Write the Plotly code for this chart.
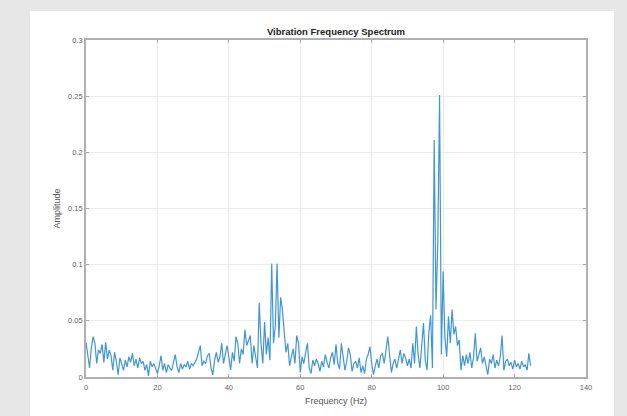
import numpy as np
import plotly.graph_objects as go

# Frequency bins (0.5 Hz resolution)
freq = np.arange(0, 125, 0.5)

# Amplitude spectrum, one row per 10 Hz
amp_0_10 = [0.031, 0.018, 0.008, 0.026, 0.036, 0.030, 0.012, 0.024, 0.021, 0.029,
            0.013, 0.031, 0.016, 0.024, 0.019, 0.006, 0.022, 0.014, 0.002, 0.017]
amp_10_20 = [0.011, 0.006, 0.015, 0.009, 0.018, 0.013, 0.021, 0.010, 0.016, 0.008,
             0.017, 0.012, 0.014, 0.006, 0.011, 0.001, 0.014, 0.009, 0.012, 0.007]
amp_20_30 = [0.003, 0.010, 0.019, 0.006, 0.012, 0.004, 0.011, 0.008, 0.006, 0.013,
             0.020, 0.009, 0.004, 0.012, 0.007, 0.011, 0.009, 0.014, 0.007, 0.012]
amp_30_40 = [0.010, 0.013, 0.016, 0.022, 0.028, 0.010, 0.014, 0.012, 0.019, 0.021,
             0.008, 0.002, 0.015, 0.022, 0.013, 0.018, 0.030, 0.012, 0.020, 0.028]
amp_40_50 = [0.018, 0.006, 0.022, 0.014, 0.036, 0.030, 0.012, 0.025, 0.020, 0.042,
             0.028, 0.033, 0.037, 0.012, 0.028, 0.018, 0.008, 0.066, 0.030, 0.012]
amp_50_60 = [0.049, 0.020, 0.035, 0.015, 0.101, 0.030, 0.045, 0.101, 0.035, 0.071,
             0.060, 0.040, 0.022, 0.030, 0.010, 0.018, 0.025, 0.012, 0.037, 0.030]
amp_60_70 = [0.004, 0.018, 0.012, 0.022, 0.030, 0.008, 0.003, 0.015, 0.010, 0.016,
             0.012, 0.005, 0.014, 0.009, 0.020, 0.013, 0.008, 0.017, 0.022, 0.011]
amp_70_80 = [0.029, 0.012, 0.007, 0.030, 0.018, 0.006, 0.014, 0.026, 0.020, 0.005,
             0.012, 0.014, 0.008, 0.017, 0.004, 0.010, 0.003, 0.016, 0.020, 0.027]
amp_80_90 = [0.012, 0.002, 0.010, 0.016, 0.008, 0.019, 0.021, 0.012, 0.024, 0.036,
             0.020, 0.004, 0.012, 0.016, 0.008, 0.018, 0.024, 0.012, 0.021, 0.017]
amp_90_100 = [0.010, 0.016, 0.008, 0.030, 0.012, 0.045, 0.020, 0.008, 0.030, 0.048,
              0.015, 0.006, 0.040, 0.055, 0.008, 0.211, 0.060, 0.120, 0.251, 0.020]
amp_100_110 = [0.094, 0.035, 0.018, 0.054, 0.030, 0.060, 0.038, 0.045, 0.028, 0.033,
               0.006, 0.019, 0.010, 0.020, 0.012, 0.022, 0.008, 0.017, 0.039, 0.014]
amp_110_120 = [0.020, 0.026, 0.012, 0.018, 0.010, 0.002, 0.016, 0.012, 0.020, 0.008,
               0.015, 0.010, 0.018, 0.037, 0.006, 0.014, 0.016, 0.010, 0.013, 0.007]
amp_120_125 = [0.015, 0.009, 0.012, 0.007, 0.014, 0.009, 0.011, 0.006, 0.021, 0.010]

amplitude = (amp_0_10 + amp_10_20 + amp_20_30 + amp_30_40 + amp_40_50 + amp_50_60
             + amp_60_70 + amp_70_80 + amp_80_90 + amp_90_100 + amp_100_110
             + amp_110_120 + amp_120_125)

x_ticks = [0, 20, 40, 60, 80, 100, 120, 140]
y_ticks = [0, 0.05, 0.1, 0.15, 0.2, 0.25, 0.3]

W, H = 627, 416
L, R, T, B = 86, 41, 40, 39
pw, ph = W - L - R, H - T - B

fig = go.Figure()
fig.add_trace(go.Scatter(
    x=freq, y=amplitude, mode="lines",
    line=dict(color="#4096d5", width=1.2),
    hoverinfo="x+y", showlegend=False,
))

font = "Liberation Sans, Arial, sans-serif"
axis_common = dict(
    showline=True, linecolor="#b0b0b0", linewidth=1.6, mirror="ticks",
    ticks="inside", ticklen=3, tickcolor="#a9a9a9", tickwidth=1,
    showgrid=True, gridcolor="#ececec", gridwidth=1,
    zeroline=False,
    tickfont=dict(family=font, size=7.5, color="#666666"),
)

fig.update_layout(
    width=W, height=H,
    margin=dict(l=L, r=R, t=T, b=B, pad=0),
    paper_bgcolor="#e6e6e6",
    plot_bgcolor="#ffffff",
    title=dict(
        text="<b>Vibration Frequency Spectrum</b>",
        font=dict(family=font, size=9.5, color="#222222"),
        x=0.5, xref="paper", xanchor="center",
        y=1 - 32 / H, yref="container", yanchor="middle",
    ),
    xaxis=dict(
        range=[0, 140], tickvals=x_ticks, ticklabelstandoff=2,
        title=dict(text="Frequency (Hz)", font=dict(family=font, size=9, color="#555555"),
                   standoff=7),
        **axis_common,
    ),
    yaxis=dict(
        range=[0, 0.3], tickvals=y_ticks,
        title=dict(text="Amplitude", font=dict(family=font, size=9, color="#555555"),
                   standoff=6),
        **axis_common,
    ),
    shapes=[dict(
        type="rect", xref="paper", yref="paper", layer="below",
        x0=(30 - L) / pw, x1=(614 - L) / pw,
        y0=(H - B - H) / ph, y1=(H - B - 11) / ph,
        fillcolor="#ffffff", line=dict(width=0),
    )],
)

fig.write_html("out.html")
